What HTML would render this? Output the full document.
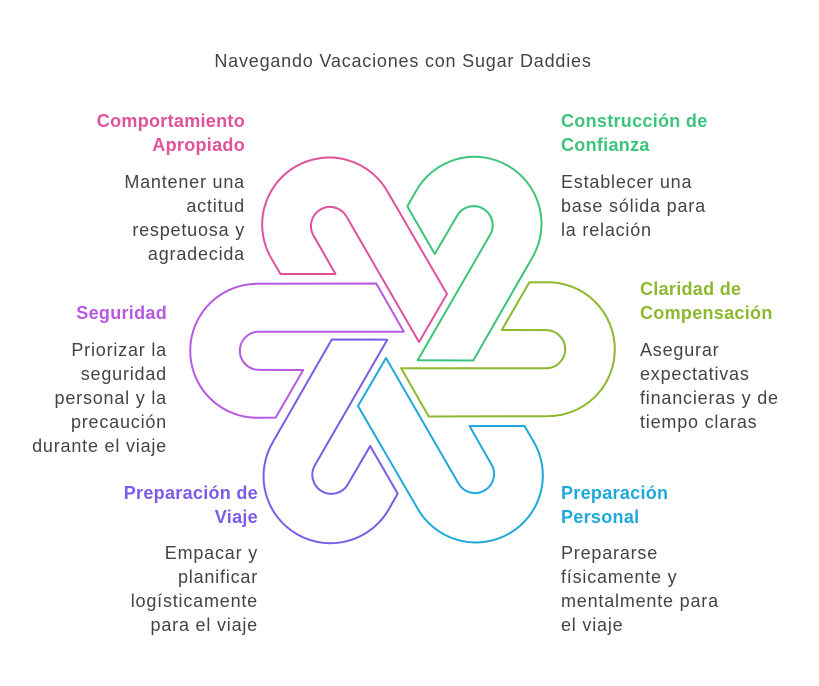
<!DOCTYPE html>
<html><head><meta charset="utf-8"><style>
body{margin:0;width:819px;height:686px;background:#fff;position:relative;font-family:"Liberation Sans",sans-serif;overflow:hidden}
.t{position:absolute;font-size:18px;letter-spacing:0.8px;line-height:24px;color:#444;white-space:nowrap}
.h{font-weight:bold;letter-spacing:0.3px}
.r{text-align:right}
</style></head><body>
<div class="t" style="left:0;width:806px;text-align:center;top:49px">Navegando Vacaciones con Sugar Daddies</div>

<div class="t r" style="right:574px;top:109px"><span class="h" style="color:#E0529C">Comportamiento<br>Apropiado</span></div>
<div class="t r" style="right:574px;top:170px">Mantener una<br>actitud<br>respetuosa y<br>agradecida</div>

<div class="t" style="left:561px;top:109px"><span class="h" style="color:#3CC47C">Construcción de<br>Confianza</span></div>
<div class="t" style="left:561px;top:170px">Establecer una<br>base sólida para<br>la relación</div>

<div class="t r" style="right:652px;top:301px"><span class="h" style="color:#B85AE0">Seguridad</span></div>
<div class="t r" style="right:652px;top:338px">Priorizar la<br>seguridad<br>personal y la<br>precaución<br>durante el viaje</div>

<div class="t" style="left:640px;top:277px"><span class="h" style="color:#8DB82F">Claridad de<br>Compensación</span></div>
<div class="t" style="left:640px;top:338px">Asegurar<br>expectativas<br>financieras y de<br>tiempo claras</div>

<div class="t r" style="right:561px;top:481px"><span class="h" style="color:#7B5CE6">Preparación de<br>Viaje</span></div>
<div class="t r" style="right:561px;top:541px">Empacar y<br>planificar<br>logísticamente<br>para el viaje</div>

<div class="t" style="left:561px;top:481px"><span class="h" style="color:#1FA9DB">Preparación<br>Personal</span></div>
<div class="t" style="left:561px;top:541px">Prepararse<br>físicamente y<br>mentalmente para<br>el viaje</div>

<svg width="819" height="686" style="position:absolute;left:0;top:0">
<defs>
<path id="p" d="M280.5,274 L272,259.5 A67,67 0 1 1 388,192.5 L447,294 L419,342 L346.5,216.5 A19,19 0 1 0 313.5,235.5 L335.5,274 Z" fill="none" stroke-width="2" stroke-linejoin="round"/>
</defs>
<use href="#p" stroke="#E0529C"/>
<use href="#p" stroke="#3CC47C" transform="rotate(60 402.5 350)"/>
<use href="#p" stroke="#8DB82F" transform="rotate(120 402.5 350)"/>
<use href="#p" stroke="#1FA9DB" transform="rotate(180 402.5 350)"/>
<use href="#p" stroke="#7B5CE6" transform="rotate(240 402.5 350)"/>
<use href="#p" stroke="#B85AE0" transform="rotate(300 402.5 350)"/>
</svg>
</body></html>
